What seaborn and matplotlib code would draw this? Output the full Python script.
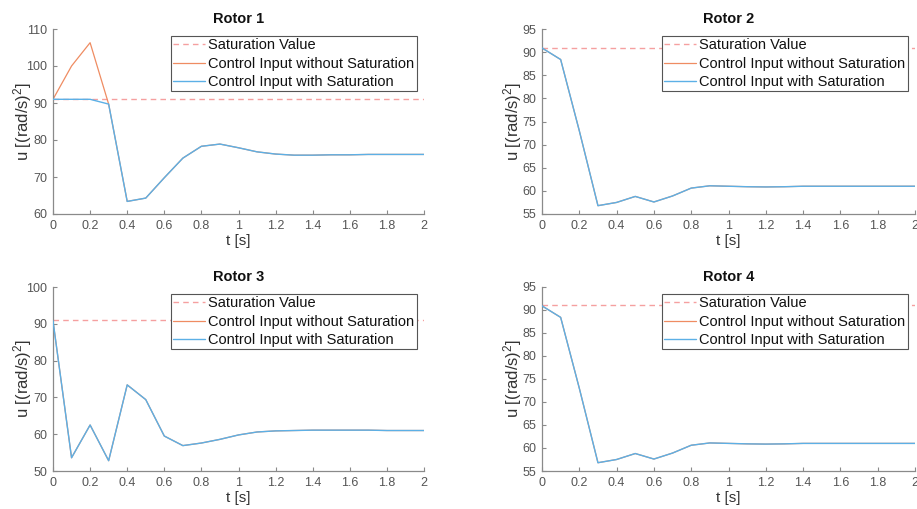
import numpy as np
import pandas as pd
import matplotlib
matplotlib.use("Agg")
import matplotlib.pyplot as plt
import seaborn as sns

# ---------------- data ----------------
t = [0.0, 0.1, 0.2, 0.3, 0.4, 0.5, 0.6, 0.7, 0.8, 0.9, 1.0,
     1.1, 1.2, 1.3, 1.4, 1.5, 1.6, 1.7, 1.8, 1.9, 2.0]

saturation_value = 91.0

r1_with = [91.0, 91.0, 91.0, 89.7, 63.4, 64.3, 69.8, 75.1, 78.3, 78.9, 77.9,
           76.8, 76.2, 75.9, 75.9, 76.0, 76.0, 76.1, 76.1, 76.1, 76.1]
r1_without = [91.0, 100.0, 106.3, 89.7, 63.4, 64.3, 69.8, 75.1, 78.3, 78.9, 77.9,
              76.8, 76.2, 75.9, 75.9, 76.0, 76.0, 76.1, 76.1, 76.1, 76.1]

r2_with = [90.9, 88.4, 73.0, 56.8, 57.5, 58.8, 57.6, 58.9, 60.6, 61.1, 61.0,
           60.9, 60.85, 60.9, 61.0, 61.0, 61.0, 61.0, 61.0, 61.0, 61.0]
r2_without = list(r2_with)

r3_with = [90.8, 53.6, 62.5, 52.8, 73.4, 69.4, 59.5, 56.9, 57.6, 58.6, 59.8,
           60.6, 60.9, 61.0, 61.1, 61.1, 61.1, 61.1, 61.0, 61.0, 61.0]
r3_without = list(r3_with)

r4_with = [90.9, 88.4, 73.0, 56.8, 57.5, 58.8, 57.6, 58.9, 60.6, 61.1, 61.0,
           60.9, 60.85, 60.9, 61.0, 61.0, 61.0, 61.0, 61.0, 61.0, 61.0]
r4_without = list(r4_with)

titles = ["Rotor 1", "Rotor 2", "Rotor 3", "Rotor 4"]
ylims = [(60, 110), (55, 95), (50, 100), (55, 95)]
ysteps = [10, 5, 10, 5]
xticks = [0, 0.2, 0.4, 0.6, 0.8, 1, 1.2, 1.4, 1.6, 1.8, 2]
xticklabels = ["0", "0.2", "0.4", "0.6", "0.8", "1", "1.2", "1.4", "1.6", "1.8", "2"]

labels = ["Saturation Value", "Control Input without Saturation",
          "Control Input with Saturation"]

# ---------------- style ----------------
sns.set_style("ticks")
plt.rcParams["font.family"] = ["Liberation Sans", "DejaVu Sans"]
plt.rcParams["mathtext.fontset"] = "custom"
plt.rcParams["mathtext.rm"] = "Liberation Sans"
plt.rcParams["mathtext.it"] = "Liberation Sans"

c_sat = "#f5a0a0"
c_wo = "#ef8c62"
c_w = "#5cb0e6"
spine_c = "#8a8a8a"
tick_c = "#555555"

fig = plt.figure(figsize=(9.17, 5.09), dpi=100)
positions = [
    [53 / 917, 1 - 214 / 509, 371 / 917, 185 / 509],
    [542 / 917, 1 - 214 / 509, 373 / 917, 185 / 509],
    [53 / 917, 1 - 471 / 509, 371 / 917, 184 / 509],
    [542 / 917, 1 - 471 / 509, 373 / 917, 184 / 509],
]
ylabel_x = [-0.05, -0.049, -0.05, -0.049]

series = [(r1_with, r1_without), (r2_with, r2_without),
          (r3_with, r3_without), (r4_with, r4_without)]

for i, (pos, (w, wo)) in enumerate(zip(positions, series)):
    ax = fig.add_axes(pos)
    df = pd.DataFrame({"t": t, "with": w, "without": wo})
    ax.axhline(saturation_value, color=c_sat, lw=1.0, ls=(0, (4, 3)),
               label=labels[0], zorder=1)
    sns.lineplot(data=df, x="t", y="without", ax=ax, color=c_wo, lw=0.9,
                 label=labels[1], zorder=2)
    sns.lineplot(data=df, x="t", y="with", ax=ax, color=c_w, lw=1.0,
                 label=labels[2], zorder=3)
    ax.set_xlim(0, 2)
    lo, hi = ylims[i]
    ax.set_ylim(lo, hi)
    ax.set_yticks(np.arange(lo, hi + 0.1, ysteps[i]))
    ax.set_xticks(xticks)
    ax.set_xticklabels(xticklabels)
    for s in ["top", "right"]:
        ax.spines[s].set_visible(False)
    for s in ["left", "bottom"]:
        ax.spines[s].set_color(spine_c)
        ax.spines[s].set_linewidth(0.9)
    ax.tick_params(direction="in", length=3, width=0.8, colors=spine_c,
                   labelcolor=tick_c, labelsize=9, pad=4)
    ax.set_title(titles[i], fontsize=10.5, fontweight="bold", pad=4, color="#111111")
    ax.set_xlabel("t [s]", fontsize=11, color="#333333", labelpad=2)
    ax.set_ylabel("u [(rad/s)$^2$]", fontsize=12, color="#333333")
    ax.yaxis.set_label_coords(ylabel_x[i], 0.5)
    leg = ax.legend(loc="upper right", fontsize=10.5, frameon=True, fancybox=False,
                    framealpha=1.0, edgecolor="#555555", borderpad=0.15,
                    labelspacing=0.3, handlelength=2.2, handletextpad=0.2,
                    borderaxespad=0.5)
    leg.get_frame().set_linewidth(0.8)
    for txt in leg.get_texts():
        txt.set_color("#111111")

fig.savefig("out.png", dpi=100)
